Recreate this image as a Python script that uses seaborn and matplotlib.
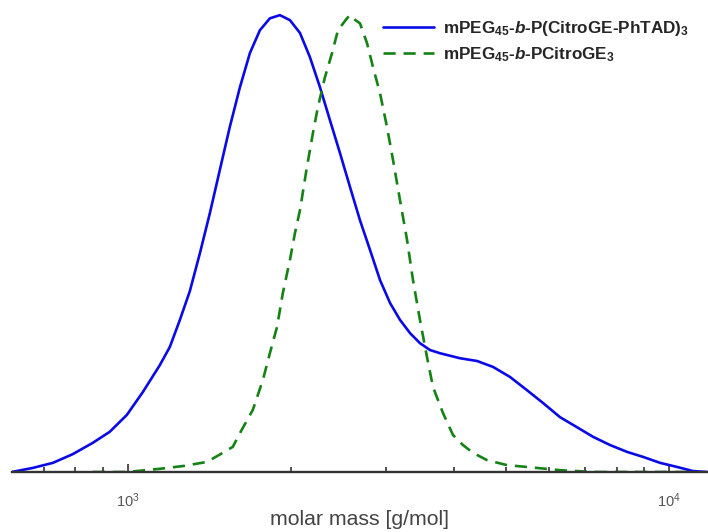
import numpy as np
import pandas as pd
import matplotlib
matplotlib.use("Agg")
import matplotlib.pyplot as plt
import seaborn as sns
from matplotlib.ticker import LogLocator, NullFormatter, FixedLocator, FixedFormatter

# ---- data (molar mass in g/mol, normalized intensity) ----
blue_mass = [610, 668, 727, 791, 862, 926, 996, 1066, 1146, 1196, 1248, 1302,
             1359, 1418, 1479, 1543, 1611, 1681, 1754, 1830, 1910, 1993, 2080,
             2170, 2265, 2363, 2466, 2573, 2685, 2802, 2924, 3051, 3183, 3322,
             3465, 3616, 3773, 4109, 4417, 4729, 5083, 5464, 5850, 6288, 6759,
             7236, 7779, 8364, 8954, 9625, 10347, 11076, 11755]
blue_int = [0.0, 0.009, 0.020, 0.039, 0.064, 0.088, 0.125, 0.175, 0.234, 0.274,
            0.333, 0.396, 0.479, 0.567, 0.661, 0.755, 0.842, 0.917, 0.967, 0.993,
            1.0, 0.989, 0.961, 0.908, 0.842, 0.770, 0.698, 0.624, 0.551, 0.486,
            0.420, 0.370, 0.333, 0.304, 0.282, 0.267, 0.260, 0.249, 0.243, 0.230,
            0.208, 0.179, 0.151, 0.120, 0.098, 0.077, 0.059, 0.044, 0.033, 0.020,
            0.011, 0.002, 0.0]

green_mass = [862, 996, 1146, 1264, 1400, 1498, 1563, 1611, 1702, 1776, 1830,
              1886, 1934, 1993, 2036, 2080, 2142, 2198, 2245, 2313, 2384, 2445,
              2540, 2573, 2606, 2685, 2766, 2838, 2924, 3012, 3090, 3183, 3280,
              3364, 3465, 3570, 3663, 3822, 3988, 4161, 4342, 4609, 5019, 5464,
              6288, 7236, 8364, 11076]
green_int = [0.0, 0.0, 0.007, 0.013, 0.022, 0.042, 0.055, 0.085, 0.136, 0.201,
             0.260, 0.317, 0.392, 0.464, 0.523, 0.573, 0.667, 0.742, 0.799, 0.864,
             0.917, 0.967, 0.993, 1.0, 0.993, 0.982, 0.939, 0.886, 0.829, 0.755,
             0.683, 0.595, 0.508, 0.420, 0.333, 0.252, 0.186, 0.129, 0.081, 0.059,
             0.042, 0.026, 0.015, 0.011, 0.004, 0.0, 0.0, 0.0]

label_blue = r"mPEG$_{45}$-$b$-P(CitroGE-PhTAD)$_{3}$"
label_green = r"mPEG$_{45}$-$b$-PCitroGE$_{3}$"
xlabel = "molar mass [g/mol]"
tick_vals = [1000, 10000]
tick_labels = [r"$\mathregular{10^{3}}$", r"$\mathregular{10^{4}}$"]

df_blue = pd.DataFrame({"mass": blue_mass, "intensity": blue_int})
df_green = pd.DataFrame({"mass": green_mass, "intensity": green_int})

sns.set_style("white")
plt.rcParams["font.family"] = ["Liberation Sans", "DejaVu Sans"]
plt.rcParams["mathtext.fontset"] = "custom"
plt.rcParams["mathtext.rm"] = "Liberation Sans:bold"
plt.rcParams["mathtext.it"] = "Liberation Sans:bold:italic"
plt.rcParams["mathtext.bf"] = "Liberation Sans:bold"

W, H = 708, 532
fig = plt.figure(figsize=(W / 100, H / 100), dpi=100)
ax_left, ax_right = 12 / W, 1.0
ax_bottom = 1 - 472 / H
ax_top = 1 - 6 / H
ax = fig.add_axes([ax_left, ax_bottom, ax_right - ax_left, ax_top - ax_bottom])

sns.lineplot(data=df_blue, x="mass", y="intensity", ax=ax, color="#0a0ae6",
             linewidth=1.9, label=label_blue)
sns.lineplot(data=df_green, x="mass", y="intensity", ax=ax, color="#148214",
             linewidth=1.9, linestyle=(0, (4.6, 3.0)), label=label_green)

ax.set_xscale("log")
ax.set_xlim(611, 11800)
ax.set_ylim(0, 1.02)

for s in ["left", "top", "right"]:
    ax.spines[s].set_visible(False)
ax.spines["bottom"].set_color("#333333")
ax.spines["bottom"].set_linewidth(1.7)
ax.spines["bottom"].set_zorder(3)
ax.set_yticks([])
ax.set_ylabel("")

ax.xaxis.set_major_locator(FixedLocator(tick_vals))
ax.xaxis.set_major_formatter(FixedFormatter(tick_labels))
ax.xaxis.set_minor_locator(LogLocator(base=10, subs=np.arange(2, 10)))
ax.xaxis.set_minor_formatter(NullFormatter())
ax.tick_params(axis="x", which="major", direction="in", length=6, width=1.2,
               color="#333333", labelsize=10.5, labelcolor="#555555", pad=14,
               bottom=True, top=False)
ax.tick_params(axis="x", which="minor", direction="in", length=3.5, width=1.2,
               color="#333333", bottom=True, top=False)

ax.set_xlabel(xlabel, fontsize=15.3, color="#444444")
ax.xaxis.set_label_coords(0.5, -0.081)
ax.xaxis.label.set_va("top")

leg = ax.legend(loc="upper left", bbox_to_anchor=(383 / W, 1 - 19 / H),
                bbox_transform=fig.transFigure, frameon=False,
                prop={"family": "Liberation Sans", "weight": "bold", "size": 12.3},
                handlelength=3.0, handletextpad=0.5, labelspacing=0.42,
                borderpad=0, borderaxespad=0)

fig.savefig("out.png", dpi=100)
